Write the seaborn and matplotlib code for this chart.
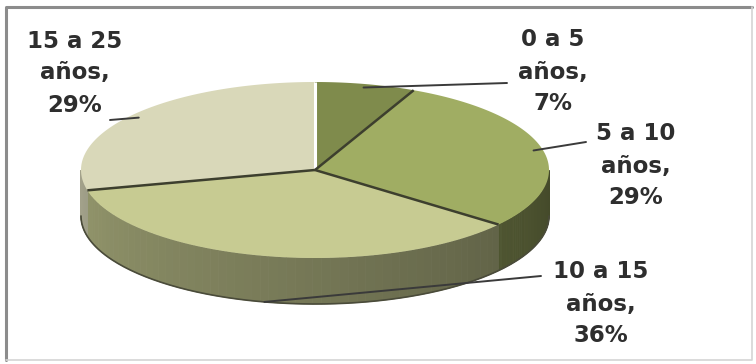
import numpy as np
import matplotlib
matplotlib.use("Agg")
import matplotlib.pyplot as plt
import matplotlib.colors as mcolors
import seaborn as sns

# Age ranges and their shares
rangos = ["0 a 5", "5 a 10", "10 a 15", "15 a 25"]
porcentajes = [7, 29, 36, 29]
colores_sup = ["#7f8b4c", "#a0ad63", "#c7cb92", "#d9d8b9"]

sns.set_theme(style="white")
plt.rcParams["font.family"] = ["DejaVu Sans"]

fig = plt.figure(figsize=(7.56, 3.64), dpi=100)
ax = fig.add_axes([0, 0, 1, 1])
ax.set_xlim(0, 756)
ax.set_ylim(364, 0)
ax.axis("off")

# 3-D pie geometry (screen units)
cx, cy, ra, rb, prof = 315, 170, 234, 88, 46


def punto(theta_deg, dy=0.0):
    t = np.radians(theta_deg)
    return cx + ra * np.cos(t), cy - rb * np.sin(t) + dy


def arco(t0, t1, n=120, dy=0.0):
    ts = np.linspace(t0, t1, n)
    xs, ys = punto(ts, dy)
    return xs, ys


def oscurecer(color, f):
    r, g, b = mcolors.to_rgb(color)
    return (r * f, g * f, b * f)


fr = np.array(porcentajes, dtype=float) / sum(porcentajes)
cum = np.concatenate([[0], np.cumsum(fr)])
inicios = 90 - 360 * cum[:-1]
finales = 90 - 360 * cum[1:]

# side walls (front half only), shaded darker toward the right
for t0, t1, col in zip(inicios, finales, colores_sup):
    lo, hi = max(t1, -180), min(t0, 0)
    if hi <= lo:
        continue
    pasos = np.linspace(hi, lo, 60)
    for a0, a1 in zip(pasos[:-1], pasos[1:]):
        tm = 0.5 * (a0 + a1)
        f = 0.42 + 0.33 * (-tm / 180.0)
        xa, ya = arco(a0, a1, 4)
        xb, yb = arco(a1, a0, 4, dy=prof)
        ax.fill(np.r_[xa, xb], np.r_[ya, yb], color=oscurecer(col, f),
                lw=0.6, ec=oscurecer(col, f))

xs, ys = arco(0, -180, 200, dy=prof)
ax.plot(xs, ys, color="#4a4b3a", lw=1.2)

# top faces
for t0, t1, col in zip(inicios, finales, colores_sup):
    xa, ya = arco(t0, t1, 200)
    ax.fill(np.r_[cx, xa], np.r_[cy, ya], color=col, lw=0)

# slice borders on the top face
for k, t in enumerate(inicios):
    x1, y1 = punto(t)
    if k == 0:
        ax.plot([cx, x1], [cy, y1], color="white", lw=2.2, solid_capstyle="butt")
    else:
        ax.plot([cx, x1], [cy, y1], color="#3d3f2e", lw=1.8, solid_capstyle="butt")

# labels with leader lines (inner end slightly inside the rim)
anclas = [(507, 83), (586, 142), (541, 276), (110, 120)]
textos_pos = [(553, 72), (636, 166), (601, 304), (75, 73)]
for i, (r, p) in enumerate(zip(rangos, porcentajes)):
    tm = 0.5 * (inicios[i] + finales[i])
    frente = np.sin(np.radians(tm)) < -0.3
    mx, my = punto(tm, dy=prof if frente else 0.0)
    if not frente:
        mx, my = cx + 0.96 * (mx - cx), cy + 0.96 * (my - cy)
    ax.plot([mx, anclas[i][0]], [my, anclas[i][1]], color="#3a3a3a", lw=1.4)
    tx, ty = textos_pos[i]
    ax.text(tx, ty, f"{r}\naños,\n{p}%", ha="center", va="center",
            fontsize=16.5, fontweight="bold", color="#2e2e2e", linespacing=1.5)

# chart frame
ax.plot([6, 6, 752], [360, 7, 7], color="#8c8c8c", lw=2.2)
ax.plot([752, 752, 6], [7, 360, 360], color="#d4d4d4", lw=1.2)

fig.savefig("out.png", dpi=100)
